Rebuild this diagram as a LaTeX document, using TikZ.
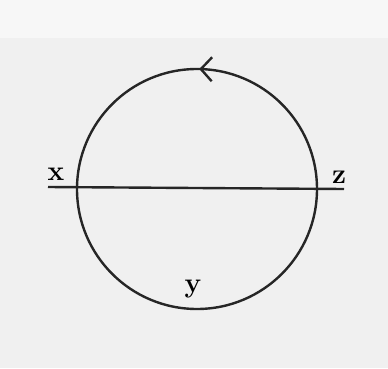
\documentclass[tikz,border=0pt]{standalone}
\usetikzlibrary{arrows.meta,decorations.markings}

\tikzset{
    letra/.style={anchor=base, font=\fontsize{28}{32}\selectfont\bfseries},
    traco/.style={line width=2.4pt, black!85}
}

\begin{document}
\begin{tikzpicture}[x=1pt,y=1pt]
        \useasboundingbox (0,0) rectangle (388,368);
        % fundo da folha
        \fill[black!3] (0,0) rectangle (388,368);
        \fill[black!6] (0,0) rectangle (388,330);

        \coordinate (centro) at (197,179);
        \coordinate (esq) at (48,181);
        \coordinate (dir) at (344,179);

        \draw[traco, postaction={decorate},
              decoration={markings, mark=at position 0.247 with {\arrow{Straight Barb[length=11pt,width=24pt,line width=2.4pt]}}}]
              (centro) circle[radius=120];
        \draw[traco] (esq) -- (dir);

        \node[letra] (x) at (56,188) {x};
        \node[letra] (z) at (339,185) {z};
        \node[letra] (y) at (193,76) {y};

    \end{tikzpicture}
\end{document}
